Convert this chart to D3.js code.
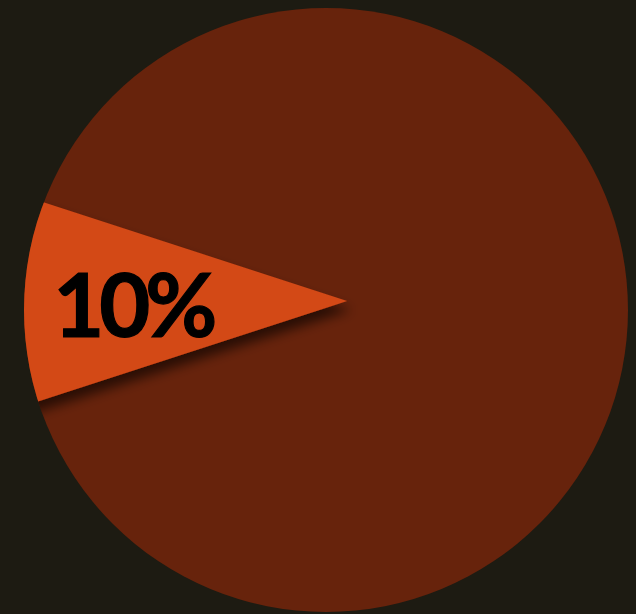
<!DOCTYPE html>
<html>
<head>
<meta charset="utf-8">
<script src="https://cdn.jsdelivr.net/npm/d3@7"></script>
<style>
  html, body { margin: 0; padding: 0; background: #1d1b12; }
  svg { display: block; }
</style>
</head>
<body>
<svg id="chart" width="636" height="614"></svg>
<script>
// Share of the whole: highlighted part vs. the remainder
const categories = ["Highlighted", "Remainder"];
const values = [10, 90];
const labels = ["10%", ""];
const colors = ["#d34917", "#67230c"];

const width = 636, height = 614;
const cx = 326, cy = 310, radius = 302;

const svg = d3.select("#chart");

svg.append("rect")
  .attr("width", width).attr("height", height)
  .attr("fill", "#1d1b12");

const defs = svg.append("defs");
defs.append("clipPath").attr("id", "disc")
  .append("circle").attr("r", radius);

const shadow = defs.append("filter").attr("id", "wedge-shadow")
  .attr("x", "-20%").attr("y", "-20%").attr("width", "140%").attr("height", "140%");
shadow.append("feDropShadow")
  .attr("dx", 4).attr("dy", 9)
  .attr("stdDeviation", 6)
  .attr("flood-color", "#000")
  .attr("flood-opacity", 0.6);

const total = d3.sum(values);
const sliceAngle = 2 * Math.PI * values[0] / total;

// Highlighted slice is centred on the left (-90deg in d3's clockwise-from-top system)
const pie = d3.pie()
  .sort(null)
  .startAngle(-Math.PI / 2 - sliceAngle / 2)
  .endAngle(-Math.PI / 2 - sliceAngle / 2 + 2 * Math.PI);

const arcs = pie(values);

const g = svg.append("g").attr("transform", `translate(${cx},${cy})`);

// Full disc in the remainder colour
g.append("circle")
  .attr("r", radius)
  .attr("fill", colors[1]);

// Highlighted wedge: apex pushed in toward the middle, cut to the disc edge
const inset = [radius * 0.07, -radius * 0.03];
const wedgeArc = d3.arc().innerRadius(0).outerRadius(radius * 1.2);

const clipped = g.append("g").attr("clip-path", "url(#disc)");
const wedge = clipped.append("g")
  .attr("transform", `translate(${inset[0]},${inset[1]})`);

wedge.append("path")
  .datum(arcs[0])
  .attr("d", wedgeArc)
  .attr("fill", colors[0])
  .attr("filter", "url(#wedge-shadow)");

// Value label inside the wedge
const labelArc = d3.arc().innerRadius(radius * 0.7).outerRadius(radius * 0.7);
const [lx, ly] = labelArc.centroid(arcs[0]);
wedge.append("text")
  .attr("x", lx - 3).attr("y", ly + 2)
  .attr("text-anchor", "middle")
  .attr("dominant-baseline", "central")
  .attr("font-family", "Lato, 'Open Sans', sans-serif")
  .attr("font-weight", 700)
  .attr("font-size", 88)
  .attr("letter-spacing", -5)
  .attr("stroke", "#000")
  .attr("stroke-width", 1.2)
  .attr("fill", "#000")
  .text(labels[0]);
</script>
</body>
</html>
